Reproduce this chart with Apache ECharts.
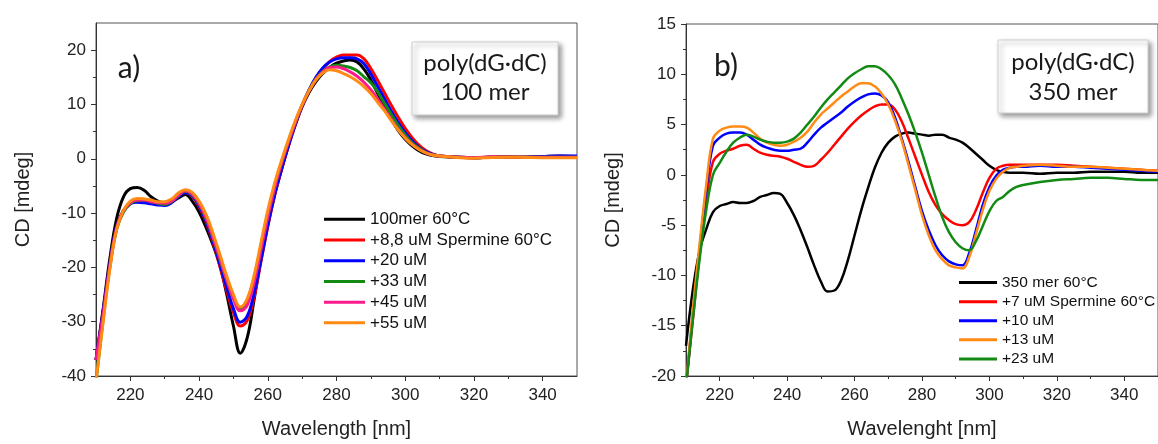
<!DOCTYPE html>
<html><head><meta charset="utf-8">
<script src="https://cdn.jsdelivr.net/npm/echarts@6/dist/echarts.min.js"></script>
<style>html,body{margin:0;padding:0;background:#fff}#c{width:1158px;height:444px}</style>
</head><body><div id="c"></div>
<script>
// Wavelength grid (nm)
const wavelength = [210,212,214,216,218,220,222,224,226,228,
  230,232,234,236,238,240,242,244,246,248,
  250,252,254,256,258,260,262,264,266,268,
  270,272,274,276,278,280,282,284,286,288,
  290,292,294,296,298,300,302,304,306,308,
  310,315,320,325,330,335,340,345,350];

// Panel a) poly(dG·dC) 100 mer
const a_100mer = [-37,-28,-18.5,-11,-7,-5.5,-5.3,-5.8,-7,-7.8,
  -8.1,-7.9,-7.2,-6.6,-7.8,-9.8,-12.6,-15.8,-19.5,-24.8,
  -30.8,-35.8,-33,-26,-18.5,-12,-6.5,-2,2.5,6.3,
  9.6,12.2,14.2,15.7,16.8,17.6,18,18.2,17.8,16.5,
  14.5,12,9.5,7.2,5.2,3.6,2.4,1.5,0.9,0.6,
  0.4,0.3,0.2,0.3,0.3,0.3,0.4,0.5,0.4];
const a_spm88 = [-37,-28.5,-19.5,-12.5,-9.5,-8.2,-7.8,-7.8,-8,-8.2,
  -8.2,-7.8,-6.8,-6.2,-6.9,-8.8,-11.6,-15.3,-19.7,-24.2,
  -28.3,-30.8,-29.8,-25.5,-19,-12.5,-6.8,-2,2.3,6.2,
  9.7,12.5,14.8,16.6,17.9,18.7,19.1,19.1,19.1,18.4,
  16.6,14.4,12.1,9.8,7.6,5.6,3.9,2.5,1.5,0.9,
  0.5,0.3,0.2,0.3,0.35,0.3,0.3,0.4,0.3];
const a_20 = [-37,-28.5,-19.5,-12.5,-9.6,-8.3,-8,-8.1,-8.3,-8.5,
  -8.6,-8.1,-7,-6.2,-6.8,-8.6,-11.4,-15,-19.3,-23.6,
  -27.6,-30.1,-29,-24.8,-18.7,-12.3,-6.6,-1.9,2.4,6.3,
  9.8,12.7,15,16.7,17.8,18.4,18.6,18.6,18.4,17.5,
  15.6,13.3,11,8.7,6.6,4.8,3.3,2.1,1.3,0.8,
  0.5,0.3,0.2,0.3,0.3,0.3,0.4,0.5,0.5];
const a_33 = [-41,-30,-20,-13,-9.8,-8.3,-7.7,-7.6,-7.9,-8.2,
  -8.4,-7.9,-6.8,-6,-6.6,-8.3,-11,-14.5,-18.4,-22.3,
  -25.7,-27.6,-26.5,-22.5,-16.5,-10.5,-5.2,-0.8,3.1,6.7,
  9.9,12.6,14.7,16.1,16.9,17.2,17.1,16.8,16.2,15.1,
  14,12.3,10.2,8.1,6.1,4.4,3,2,1.2,0.7,
  0.5,0.3,0.2,0.3,0.3,0.3,0.3,0.3,0.3];
const a_45 = [-37,-29,-20,-12.8,-9.6,-8.1,-7.6,-7.6,-7.9,-8.1,
  -8.2,-7.8,-6.7,-5.9,-6.5,-8.2,-10.8,-14.3,-18.2,-22.2,
  -25.8,-28,-27,-22.8,-16.8,-10.7,-5.3,-0.8,3.1,6.7,
  9.9,12.5,14.6,16,16.8,16.9,16.6,16,15.2,14.1,
  12.7,11,9.1,7.2,5.4,3.9,2.7,1.8,1.1,0.7,
  0.5,0.3,0.2,0.35,0.3,0.3,0.3,0.3,0.3];
const a_55 = [-41,-30.5,-20.5,-13,-9.5,-7.8,-7.3,-7.4,-7.6,-7.9,
  -7.9,-7.4,-6.3,-5.7,-6.2,-7.8,-10.2,-13.6,-17.5,-21.5,
  -25,-27.3,-25.8,-21.5,-15.5,-9.5,-4.5,-0.3,3.5,7,
  10,12.5,14.5,15.8,16.4,16.2,15.7,15.1,14.3,13.3,
  12,10.4,8.8,7,5.3,3.8,2.6,1.7,1.1,0.7,
  0.5,0.25,0.1,0.25,0.3,0.25,0.2,0.2,0.2];

// Panel b) poly(dG·dC) 350 mer
const b_350mer = [-17,-11.5,-7.6,-5.4,-3.7,-3.1,-2.9,-2.7,-2.8,-2.8,
  -2.6,-2.2,-2,-1.8,-1.9,-2.8,-4,-5.5,-7.2,-9,
  -10.6,-11.6,-11.5,-10.5,-8.5,-6,-3.5,-1.3,0.7,2.2,
  3.2,3.8,4.1,4.2,4.1,4,3.9,4,4,3.7,
  3.5,3.2,2.7,2.1,1.5,0.9,0.5,0.3,0.2,0.2,
  0.2,0.1,0.2,0.2,0.3,0.3,0.3,0.2,0.2];
const b_spm7 = [-21,-14.5,-8,-2.5,1.3,2.1,2.4,2.6,2.9,3,
  2.6,2.2,2,1.9,1.8,1.6,1.3,1,0.8,0.9,
  1.5,2.2,3,3.8,4.6,5.3,5.9,6.4,6.8,7,
  7,6.5,5.3,3.6,1.8,0,-1.7,-3,-3.9,-4.5,
  -4.9,-5,-4.7,-3.5,-1.8,-0.3,0.6,0.9,1,1,
  1,1,1,0.9,0.8,0.7,0.6,0.5,0.4];
const b_10 = [-21,-14,-7.5,-1.5,2.9,3.7,4.1,4.2,4.2,4,
  3.5,3,2.7,2.5,2.4,2.4,2.5,2.6,3.2,4,
  4.7,5.2,5.7,6.2,6.8,7.3,7.7,8,8.1,7.9,
  7.2,5.7,3.6,1.3,-1.2,-3.6,-5.5,-7,-8,-8.6,
  -8.9,-9,-7.8,-5.5,-3,-1.2,-0.1,0.5,0.7,0.8,
  0.8,0.9,0.8,0.8,0.7,0.6,0.5,0.4,0.3];
const b_13 = [-21,-13.5,-7,-1,3.6,4.4,4.7,4.8,4.8,4.7,
  4.2,3.6,3.2,3,2.9,3,3.3,3.7,4.3,5.2,
  6,6.6,7.2,7.8,8.3,8.8,9.1,9.1,8.8,8.1,
  7,5.4,3.4,1,-1.5,-4,-6,-7.5,-8.4,-9,
  -9.2,-9.3,-8.2,-5.9,-3.5,-1.6,-0.4,0.3,0.7,0.8,
  0.9,1,0.9,0.8,0.8,0.7,0.6,0.5,0.4];
const b_23 = [-21,-14.5,-8.5,-3.5,0,1.2,2.3,3.2,3.7,4,
  3.8,3.5,3.3,3.2,3.2,3.3,3.6,4.2,5,5.8,
  6.7,7.5,8.2,8.9,9.6,10.1,10.5,10.8,10.8,10.5,
  9.9,9,7.6,6,4.2,2.2,0,-2.2,-4.2,-5.7,
  -6.7,-7.3,-7.5,-6.6,-5.1,-3.6,-2.6,-2.2,-1.6,-1.2,
  -1,-0.7,-0.5,-0.4,-0.3,-0.3,-0.4,-0.5,-0.5];

const namesA = ['100mer 60°C','+8,8 uM Spermine 60°C','+20 uM','+33 uM','+45 uM','+55 uM'];
const namesB = ['350 mer 60°C','+7 uM Spermine 60°C','+10 uM','+13 uM','+23 uM'];
const valuesA = [a_100mer, a_spm88, a_20, a_33, a_45, a_55];
const valuesB = [b_350mer, b_spm7, b_10, b_13, b_23];

// Tick values
const xTicks = [220,240,260,280,300,320,340];
const xMinor = [230,250,270,290,310,330];
const yTicksA = [-40,-30,-20,-10,0,10,20];
const yMinorA = [-35,-25,-15,-5,5,15];
const yTicksB = [-20,-15,-10,-5,0,5,10,15];
const yMinorB = [-17.5,-12.5,-7.5,-2.5,2.5,7.5,12.5];

// Styles
const colorsA = ['#000000','#ff0000','#0000ff','#138a13','#ff1a8c','#ff8a14'];
const colorsB = ['#000000','#ff0000','#0000ff','#ff8a14','#138a13'];
const FONT = 'Liberation Sans, Arial, sans-serif';
const AX = '#333';

function mainX(gi, name) {
  return {type:'value', gridIndex:gi, min:210, max:350, position:'bottom', name:name, nameLocation:'middle', nameGap:43,
    nameTextStyle:{fontSize:20, fontFamily:FONT, color:'#222'},
    axisLine:{show:true, onZero:false, lineStyle:{color:AX, width:1}},
    axisTick:{show:true, inside:false, length:5, customValues:xTicks, lineStyle:{color:AX}},
    axisLabel:{customValues:xTicks, fontSize:17, fontFamily:FONT, color:'#222', margin:11},
    splitLine:{show:false}};
}
function minorX(gi) {
  return {type:'value', gridIndex:gi, min:210, max:350, position:'bottom',
    axisLine:{show:false, onZero:false}, axisLabel:{show:false}, splitLine:{show:false},
    axisTick:{show:true, length:3, customValues:xMinor, lineStyle:{color:AX}}};
}
function mainY(gi, min, max, ticks) {
  return {type:'value', gridIndex:gi, min:min, max:max, position:'left', name:'CD [mdeg]', nameLocation:'middle', nameGap:63,
    nameTextStyle:{fontSize:20, fontFamily:FONT, color:'#222'},
    axisLine:{show:true, onZero:false, lineStyle:{color:AX, width:1}},
    axisTick:{show:true, length:5, customValues:ticks, lineStyle:{color:AX}},
    axisLabel:{customValues:ticks, fontSize:17, fontFamily:FONT, color:'#222', margin:10},
    splitLine:{show:false}};
}
function minorY(gi, min, max, ticks) {
  return {type:'value', gridIndex:gi, min:min, max:max, position:'left',
    axisLine:{show:false, onZero:false}, axisLabel:{show:false}, splitLine:{show:false},
    axisTick:{show:true, length:3, customValues:ticks, lineStyle:{color:AX}}};
}

const series = [];
valuesA.forEach((vals, k) => {
  series.push({name:namesA[k], type:'line', xAxisIndex:0, yAxisIndex:0, color:colorsA[k],
    data: wavelength.map((w,i)=>[w, vals[i]]), showSymbol:false, symbol:'none', smooth:0.4,
    lineStyle:{width:3, color:colorsA[k]}, clip:true, animation:false});
});
valuesB.forEach((vals, k) => {
  series.push({name:namesB[k], type:'line', xAxisIndex:1, yAxisIndex:1, color:colorsB[k],
    data: wavelength.map((w,i)=>[w, vals[i]]), showSymbol:false, symbol:'none', smooth:0.4,
    lineStyle:{width:2.5, color:colorsB[k]}, clip:true, animation:false});
});

const boxStyle = {fill:'#fff', stroke:'#cfcfcf', lineWidth:1, shadowBlur:5, shadowOffsetX:3, shadowOffsetY:3, shadowColor:'rgba(0,0,0,0.4)'};
const txt = (t, x, y, size) => ({type:'text', x:x, y:y, z:20,
  style:{text:t, font: size + 'px Lato, "Open Sans", sans-serif', fill:'#1a1a1a', align:'center', verticalAlign:'middle'}});

const option = {
  animation:false,
  backgroundColor:'#fff',
  grid:[
    {left:96, top:23, width:481, height:356, show:true, borderColor:'#555', borderWidth:1, backgroundColor:'transparent'},
    {left:686, top:24, width:480, height:355, show:true, borderColor:'#555', borderWidth:1, backgroundColor:'transparent'}
  ],
  xAxis:[mainX(0,'Wavelength [nm]'), mainX(1,'Wavelenght [nm]'), minorX(0), minorX(1)],
  yAxis:[mainY(0,-40,25,yTicksA), mainY(1,-20,15,yTicksB), minorY(0,-40,25,yMinorA), minorY(1,-20,15,yMinorB)],
  legend:[
    {data:namesA, left:324, top:209, orient:'vertical', icon:'rect', itemWidth:41, itemHeight:3, itemGap:0, itemTextGap:5, padding:0, selectedMode:false,
      textStyle:{fontSize:17, lineHeight:20.7, fontFamily:FONT, color:'#111'}},
    {data:namesB, left:959, top:273, orient:'vertical', icon:'rect', itemWidth:38, itemHeight:3, itemGap:0, itemTextGap:2, padding:0, selectedMode:false,
      textStyle:{fontSize:15.5, lineHeight:19.1, fontFamily:FONT, color:'#111'}}
  ],
  graphic:[
    {type:'rect', z:19, shape:{x:412, y:42, width:146, height:73}, style:boxStyle},
    txt('poly(dG·dC)', 485, 63, 24), txt('100 mer', 485, 92, 24),
    {type:'rect', z:19, shape:{x:998, y:40, width:150, height:73}, style:boxStyle},
    txt('poly(dG·dC)', 1073, 62, 24), txt('350 mer', 1073, 92, 24),
    txt('a)', 129, 68, 30), txt('b)', 726, 66, 30)
  ],
  series: series
};
const chart = echarts.init(document.getElementById('c'), null, {renderer:'canvas'});
chart.setOption(option);
</script></body></html>
